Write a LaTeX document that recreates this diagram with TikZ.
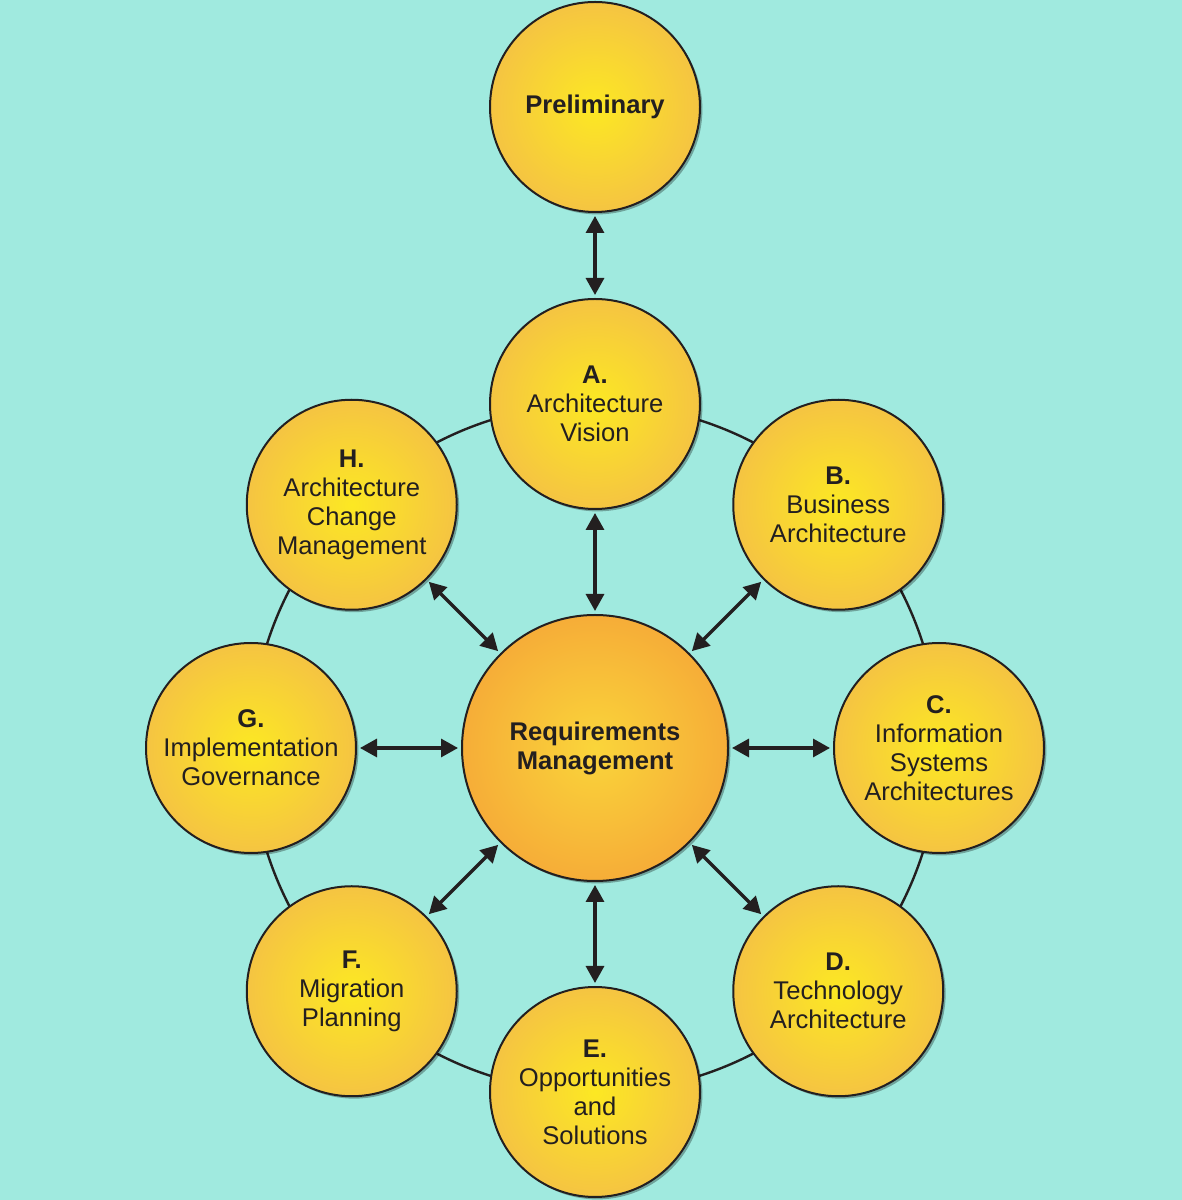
\documentclass[tikz,border=0pt]{standalone}
\usepackage{fontspec}
\setmainfont{Liberation Sans}
\usetikzlibrary{%
	arrows.meta,%
	calc,%
	shadows
}
\definecolor{bgteal}{HTML}{A0EADF}
\definecolor{ink}{HTML}{231F20}
\definecolor{phasecore}{HTML}{FCE823}
\definecolor{phaserim}{HTML}{F5C442}
\definecolor{hubcore}{HTML}{FAD53A}
\definecolor{hubrim}{HTML}{F6AD38}

\begin{document}
\begin{tikzpicture}[x=0.5pt,y=0.5pt,>={Triangle[length=8.5pt,width=9pt]},
		phase/.style={circle,draw=ink,line width=1pt,minimum size=105pt,inner sep=0pt,align=center,text=ink,
			inner color=phasecore,outer color=phaserim,
			drop shadow={shadow xshift=1.2pt,shadow yshift=-1.2pt,fill=black,opacity=0.3},
			font=\fontsize{12.8}{14.5}\selectfont},
		hubnode/.style={phase,minimum size=133pt,inner color=hubcore,outer color=hubrim,
			font=\bfseries\fontsize{12.8}{14.5}\selectfont},
		link/.style={<->,draw=ink,line width=1.6pt,shorten <=1.5pt,shorten >=1.5pt},
		ring/.style={draw=ink,line width=1.2pt}]
		\useasboundingbox (0,0) rectangle (1182,1200);
		\fill[bgteal] (0,0) rectangle (1182,1200);
		\coordinate (hub) at (595,452);
		% ring joining the phases
		\draw[ring] (hub) circle[radius=172pt];
		\node[phase,font=\bfseries\fontsize{12.8}{14.5}\selectfont] (prelim) at (595,1093) {Preliminary};
		\node[hubnode] (req) at (hub) {Requirements\\Management};
		\foreach \name/\ang/\txt in {
			A/90/{\textbf{A.}\\Architecture\\Vision},
			B/45/{\textbf{B.}\\Business\\Architecture},
			C/0/{\textbf{C.}\\Information\\Systems\\Architectures},
			D/-45/{\textbf{D.}\\Technology\\Architecture},
			E/-90/{\textbf{E.}\\Opportunities\\and\\Solutions},
			F/-135/{\textbf{F.}\\Migration\\Planning},
			G/180/{\textbf{G.}\\Implementation\\Governance},
			H/135/{\textbf{H.}\\Architecture\\Change\\Management}}
			\node[phase] (\name) at ($(hub)+(\ang:344)$) {\txt};
		% arrows
		\draw[link] (prelim) -- (A);
		\foreach \name in {A,B,C,D,E,F,G,H}
			\draw[link] (req) -- (\name);
	\end{tikzpicture}
\end{document}
